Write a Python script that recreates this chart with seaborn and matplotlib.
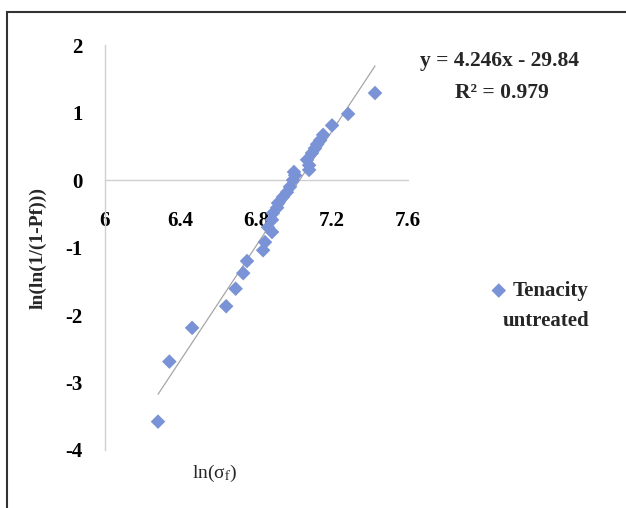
import numpy as np
import pandas as pd
import seaborn as sns
import matplotlib.pyplot as plt
from matplotlib.patches import Rectangle

# values
ln_sigma = [6.28, 6.34, 6.46, 6.64, 6.69, 6.73, 6.75, 6.835, 6.845, 6.861,
            6.882, 6.882, 6.887, 6.909, 6.914, 6.94, 6.961, 6.977, 6.993, 7.004,
            6.998, 7.078, 7.067, 7.078, 7.093, 7.109, 7.12, 7.136, 7.152, 7.199,
            7.284, 7.426]
ln_ln = [-3.58, -2.69, -2.19, -1.87, -1.61, -1.38, -1.2, -1.04, -0.92, -0.7,
         -0.77, -0.59, -0.49, -0.41, -0.34, -0.25, -0.18, -0.1, 0.0, 0.07,
         0.12, 0.15, 0.3, 0.22, 0.4, 0.47, 0.53, 0.59, 0.67, 0.81,
         0.98, 1.29]
slope, intercept, r2 = 4.246, -29.84, 0.979

xticks = [6, 6.4, 6.8, 7.2, 7.6]
yticks = [-4, -3, -2, -1, 0, 1, 2]

df = pd.DataFrame({"x": ln_sigma, "y": ln_ln})

sns.set_style("white")
plt.rcParams['font.family'] = ['Liberation Serif', 'DejaVu Serif']
plt.rcParams['mathtext.fontset'] = 'stix'
plt.rcParams['axes.unicode_minus'] = False

fig = plt.figure(figsize=(6.26, 5.08), dpi=100)
ax = fig.add_axes([0.1677, 0.1142, 0.484, 0.797])

sns.scatterplot(data=df, x="x", y="y", ax=ax, marker="D", s=55,
                color="#7a92d6", edgecolor="none", label="Tenacity", zorder=3)

fx = np.array([min(ln_sigma), max(ln_sigma)])
ax.plot(fx, slope * fx + intercept, color="#a6a6a6", lw=0.9, zorder=2)

ax.set_xlim(6, 7.6)
ax.set_ylim(-4, 2)
ax.set_xticks(xticks)
ax.set_xticklabels(["6", "6.4", "6.8", "7.2", "7.6"])
ax.set_yticks(yticks)
ax.set_yticklabels([str(v) for v in yticks])
ax.set_xlabel("")
ax.set_ylabel("")

for s in ["top", "right"]:
    ax.spines[s].set_visible(False)
ax.spines["bottom"].set_position(("data", 0))
for s in ["left", "bottom"]:
    ax.spines[s].set_color("#d0d0d0")
    ax.spines[s].set_linewidth(1.0)

ax.tick_params(axis="both", colors="#d0d0d0", length=4, width=1,
               labelcolor="black", labelsize=15)
ax.tick_params(axis="x", direction="out", pad=18)
ax.tick_params(axis="y", direction="out", pad=12)
for lab in ax.get_xticklabels() + ax.get_yticklabels():
    lab.set_fontweight("bold")

fig.text(38 / 626, 1 - 248 / 508, "ln(ln(1/(1-Pf)))", rotation=90,
         ha="center", va="center", fontsize=14, fontweight="bold")
fig.text(215 / 626, 1 - 473 / 508, r"ln(σ$_\mathrm{f}$)",
         ha="center", va="center", fontsize=14)

fig.text(499 / 626, 1 - 61 / 508, f"y = {slope}x - {abs(intercept)}",
         ha="center", va="center", fontsize=15.5, fontweight="bold")
fig.text(502 / 626, 1 - 93 / 508, f"R² = {r2}",
         ha="center", va="center", fontsize=15.5, fontweight="bold")

leg = ax.legend(loc="center left", bbox_to_anchor=(480 / 626, 1 - 291 / 508),
                bbox_transform=fig.transFigure, frameon=False,
                handletextpad=0.15, handlelength=1.0, borderaxespad=0,
                prop={"size": 15, "weight": "bold"}, markerscale=1.0)
fig.text(503 / 626, 1 - 321 / 508, "untreated", ha="left", va="center",
         fontsize=15, fontweight="bold")

fig.patches.append(Rectangle((7 / 626, -0.1), 1.2, 1 - 12 / 508 + 0.1,
                             transform=fig.transFigure, fill=False,
                             edgecolor="#333333", lw=1.5))

fig.savefig("out.png", dpi=100)
